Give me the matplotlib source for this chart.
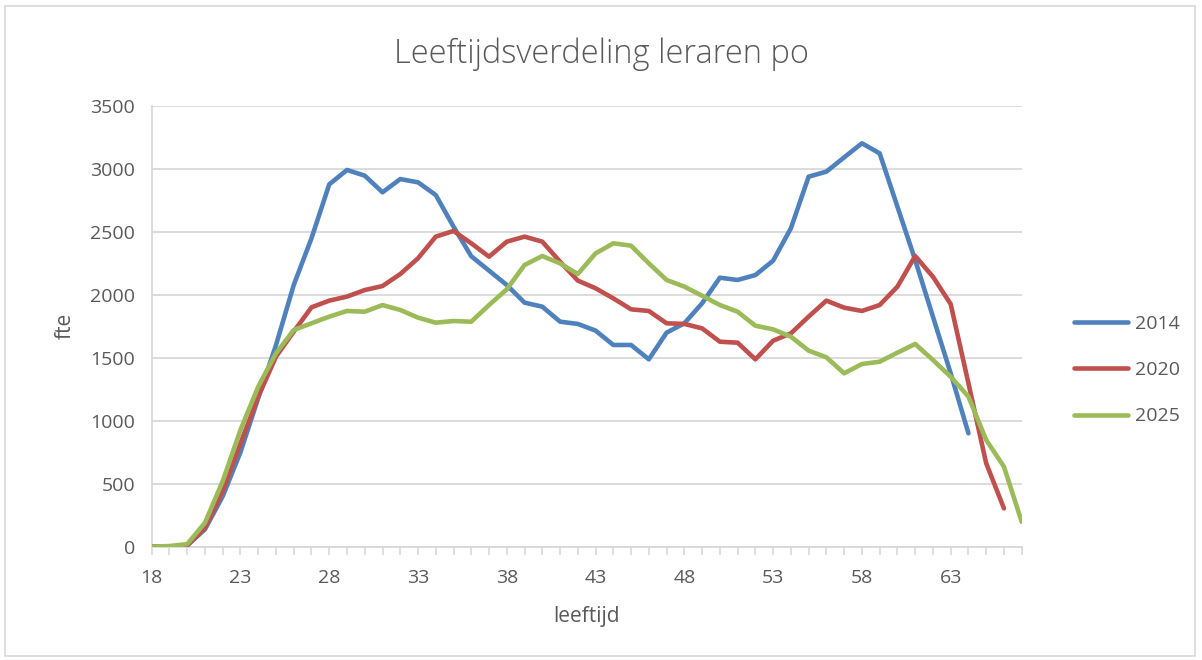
import matplotlib
matplotlib.use("Agg")
import matplotlib.pyplot as plt
from matplotlib.patches import Rectangle

# ── Style ──────────────────────────────────────────────────────────────────────
plt.rcParams.update({
    "font.family": ["Open Sans", "DejaVu Sans"],
    "font.size": 14,
})

TEXT_COLOR = "#595959"
GRID_COLOR = "#d9d9d9"

# ── Data ───────────────────────────────────────────────────────────────────────
ages = list(range(18, 68))

fte_2014 = [0, 0, 10, 138, 400, 750, 1180, 1600, 2077, 2448,
            2876, 2990, 2945, 2813, 2918, 2892, 2791, 2540, 2305, 2191,
            2077, 1937, 1905, 1786, 1768, 1715, 1601, 1601, 1487, 1699,
            1773, 1932, 2135, 2117, 2156, 2270, 2527, 2937, 2977, 3090,
            3202, 3122, 2699, 2276, 1826, 1376, 900]

fte_2020 = [0, 0, 10, 150, 440, 820, 1190, 1508, 1707, 1900,
            1953, 1985, 2037, 2069, 2164, 2289, 2461, 2506, 2408, 2302,
            2421, 2461, 2421, 2262, 2112, 2051, 1971, 1884, 1871, 1773,
            1768, 1733, 1627, 1619, 1487, 1635, 1693, 1826, 1953, 1897,
            1871, 1918, 2064, 2307, 2143, 1926, 1297, 662, 304]

fte_2025 = [0, 5, 20, 190, 520, 926, 1270, 1535, 1720, 1773,
            1826, 1871, 1865, 1918, 1879, 1818, 1778, 1791, 1786, 1918,
            2043, 2236, 2307, 2249, 2164, 2328, 2408, 2389, 2249, 2117,
            2064, 1992, 1918, 1865, 1754, 1725, 1667, 1556, 1503, 1376,
            1450, 1468, 1540, 1609, 1482, 1349, 1191, 847, 635, 198]

series = [("2014", fte_2014, "#4f81bd"),
          ("2020", fte_2020, "#c0504d"),
          ("2025", fte_2025, "#9bbb59")]

# ── Figure ─────────────────────────────────────────────────────────────────────
fig = plt.figure(figsize=(12.02, 6.60), dpi=100)
ax = fig.add_axes([0.1262, 0.1717, 0.7238, 0.6681])

for name, vals, color in series:
    ax.plot(ages[:len(vals)], vals, color=color, lw=3.3, label=name,
            solid_capstyle="round", solid_joinstyle="round", zorder=3)

ax.set_xlim(18, 67)
ax.set_ylim(0, 3500)
ax.set_yticks(range(0, 3501, 500))
ax.set_xticks(ages)
ax.set_xticklabels([str(a) if (a - 18) % 5 == 0 else "" for a in ages])

ax.grid(axis="y", color=GRID_COLOR, lw=1.3, zorder=0)
for side in ["top", "right"]:
    ax.spines[side].set_visible(False)
for side in ["left", "bottom"]:
    ax.spines[side].set_color(GRID_COLOR)
    ax.spines[side].set_linewidth(1.3)

ax.tick_params(axis="y", length=0, pad=12, colors=TEXT_COLOR, labelsize=14)
ax.tick_params(axis="x", length=6, width=1.2, color=GRID_COLOR, pad=10,
               labelcolor=TEXT_COLOR, labelsize=14)

ax.set_xlabel("leeftijd", color=TEXT_COLOR, fontsize=15, labelpad=14)
ax.set_ylabel("fte", color=TEXT_COLOR, fontsize=15, labelpad=10)

fig.text(0.5, 0.918, "Leeftijdsverdeling leraren po", ha="center", va="center",
         fontsize=23.5, color=TEXT_COLOR, fontweight="light")

leg = ax.legend(loc="center left", bbox_to_anchor=(1.04, 0.40), frameon=False,
                fontsize=14, handlelength=2.8, labelspacing=1.45,
                handletextpad=0.35)
for t in leg.get_texts():
    t.set_color(TEXT_COLOR)

fig.add_artist(Rectangle((0.004, 0.006), 0.99, 0.985, transform=fig.transFigure,
                         fill=False, edgecolor=GRID_COLOR, lw=1.2))

fig.savefig("out.png", dpi=100)
